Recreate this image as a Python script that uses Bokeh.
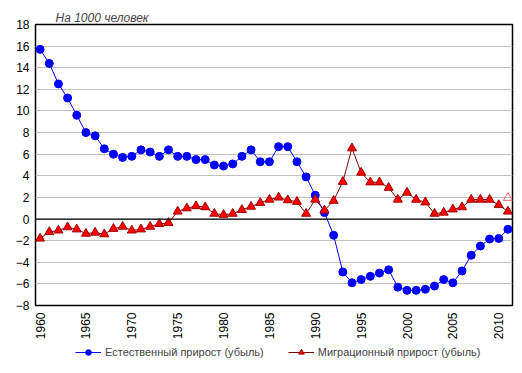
import math
from bokeh.plotting import figure
from bokeh.layouts import column
from bokeh.models import FixedTicker, Span, Legend, LegendItem
from bokeh.embed import file_html
from bokeh.resources import INLINE

years = list(range(1960, 2012))
natural = [15.7, 14.4, 12.5, 11.2, 9.6, 8.0, 7.7, 6.5, 6.0, 5.7, 5.8, 6.4, 6.2, 5.8, 6.4,
           5.8, 5.8, 5.5, 5.5, 5.0, 4.9, 5.1, 5.8, 6.4, 5.3, 5.3, 6.7, 6.7, 5.3, 3.9,
           2.2, 0.6, -1.5, -4.9, -5.9, -5.6, -5.3, -5.0, -4.7, -6.3, -6.6, -6.6, -6.5,
           -6.2, -5.6, -5.9, -4.8, -3.35, -2.5, -1.85, -1.8, -0.95]
migration = [-1.8, -1.2, -1.05, -0.75, -0.95, -1.35, -1.25, -1.4, -0.9, -0.7, -1.05, -0.95,
             -0.7, -0.45, -0.35, 0.7, 1.0, 1.2, 1.1, 0.5, 0.4, 0.5, 0.85, 1.15, 1.5, 1.8,
             2.0, 1.75, 1.6, 0.5, 1.8, 0.8, 1.7, 3.45, 6.55, 4.3, 3.4, 3.4, 2.9, 1.8, 2.45,
             1.8, 1.55, 0.5, 0.6, 0.9, 1.1, 1.8, 1.8, 1.8, 1.3, 0.7]
extra_year = [2011]
extra_value = [1.97]
label_natural = "Естественный прирост (убыль)"
label_migration = "Миграционный прирост (убыль)"
title_text = "На 1000 человек"
y_ticks = list(range(-8, 20, 2))
x_ticks = list(range(1960, 2011, 5))

FONT = "Liberation Sans"
BLUE = "#0000FF"
RED = "#FF0000"
RED_EDGE = "#A00000"
RED_LINE = "#800000"

p = figure(frame_width=477, frame_height=281, x_range=(1959.5, 2011.5), y_range=(-8, 18),
           output_backend="svg", toolbar_location=None,
           min_border_left=35, min_border_right=10, min_border_top=24, min_border_bottom=40)

p.title.text = title_text
p.title.text_font = FONT
p.title.text_font_style = "italic"
p.title.text_font_size = "12px"
p.title.align = "left"
p.title.offset = 20
p.title.standoff = 0

p.outline_line_color = "black"
p.outline_line_width = 1.5
p.xgrid.grid_line_color = None
p.ygrid.grid_line_color = "#C0C0C0"
p.ygrid.grid_line_width = 1
p.ygrid.ticker = FixedTicker(ticks=y_ticks)

p.yaxis.ticker = FixedTicker(ticks=y_ticks)
p.xaxis.ticker = FixedTicker(ticks=x_ticks)
for ax in (p.xaxis, p.yaxis):
    ax.axis_line_color = None
    ax.major_tick_line_color = None
    ax.minor_tick_line_color = None
    ax.major_tick_out = 0
    ax.major_tick_in = 0
    ax.major_label_text_font = FONT
    ax.major_label_text_font_size = "12px"
    ax.major_label_text_color = "black"
p.yaxis.major_label_standoff = 6
p.xaxis.major_label_standoff = 7
p.xaxis.major_label_orientation = math.pi / 2

p.add_layout(Span(location=0, dimension="width", line_color="black", line_width=1.2))

p.line(years, natural, line_color=BLUE, line_width=1)
p.scatter(years, natural, size=8, marker="circle", fill_color=BLUE, line_color=BLUE)
p.line(years, migration, line_color=RED_LINE, line_width=1)
p.scatter(years, migration, size=9, marker="triangle", fill_color=RED, line_color=RED_EDGE)
p.scatter(extra_year, extra_value, size=9, marker="triangle", fill_color=None, line_color="#FF6060")

# legend strip below the chart (its series lie outside this strip's ranges, only the legend shows)
lg = figure(width=522, height=28, output_backend="svg", toolbar_location=None,
            x_range=(0, 1), y_range=(100, 101), min_border=0)
lg.outline_line_color = None
lg.axis.visible = False
lg.grid.grid_line_color = None
ll1 = lg.line(years, natural, line_color=BLUE, line_width=1)
ls1 = lg.scatter(years, natural, marker="circle", fill_color=BLUE, line_color=BLUE)
ll2 = lg.line(years, migration, line_color=RED_LINE, line_width=1)
ls2 = lg.scatter(years, migration, marker="triangle", fill_color=RED, line_color=RED_EDGE)

legend = Legend(items=[LegendItem(label=label_natural, renderers=[ll1, ls1]),
                       LegendItem(label=label_migration, renderers=[ll2, ls2])],
                orientation="horizontal", location=(40, 14),
                label_text_font=FONT, label_text_font_size="11px",
                glyph_width=26, glyph_height=14, label_height=14, spacing=24, label_standoff=4,
                border_line_color=None, background_fill_alpha=0, padding=0, margin=0)
lg.add_layout(legend, "center")

layout = column(p, lg, spacing=0)
open("out.html", "w").write(file_html(layout, INLINE))
